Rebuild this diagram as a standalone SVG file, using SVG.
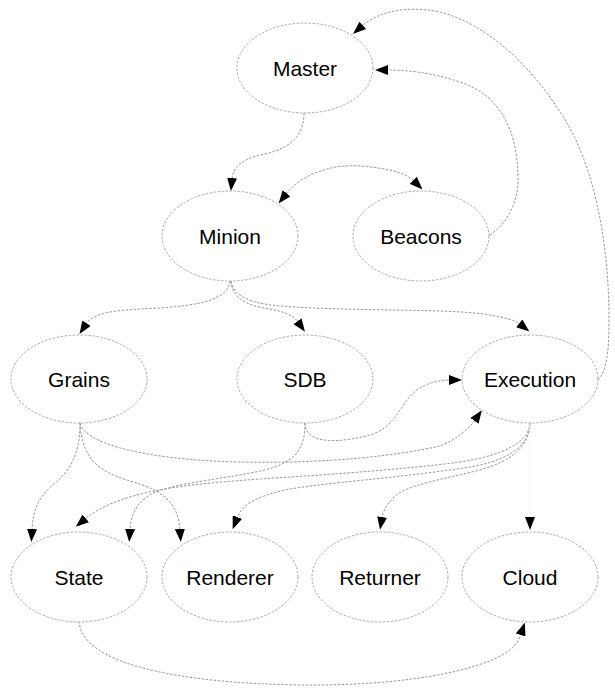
<svg xmlns="http://www.w3.org/2000/svg" width="615" height="693" viewBox="0 0 615 693">
<style>
.node ellipse{fill:#fff;stroke:#aaa;stroke-width:1;stroke-dasharray:2.5 1.5}
.node text{font-family:"Liberation Sans",Arial,sans-serif;font-size:21px;fill:#000;text-anchor:middle}
#edges path{fill:none;stroke:#999;stroke-width:1;stroke-dasharray:2.5 1.5;marker-end:url(#ah)}
</style>
<defs>
<marker id="ah" viewBox="0 0 13 10" refX="1" refY="5" markerWidth="13" markerHeight="10" markerUnits="userSpaceOnUse" orient="auto-start-reverse">
<path d="M0,0 L13,5 L0,10 z" fill="#000"/>
</marker>
</defs>
<rect width="615" height="693" fill="#fff"/>
<g id="edges">
<path d="M304,113 C304,140 285,150 260,155 C240,160 233,168 232,179"/>
<path d="M286,194 C305,170 340,164 360,166 C385,168 405,172 414,181" style="marker-start:url(#ah)"/>
<path d="M490,235 C505,225 518,205 518,180 C518,130 500,95 460,82 C430,72 405,70 387,70"/>
<path d="M598,380 C606,372 609,355 609,320 C609,230 590,160 565,120 C535,70 490,25 440,12 C405,5 378,12 362,26"/>
<path d="M230,281 C228,300 200,305 160,308 C125,310 95,310 86,324"/>
<path d="M231,281 C232,300 250,306 270,309 C285,312 293,315 298,322"/>
<path d="M231,281 C234,297 250,303 280,306 C360,312 450,308 490,315 C505,318 515,320 520,324"/>
<path d="M80,423 C80,455 70,470 55,483 C38,497 33,510 32,530"/>
<path d="M80,423 C82,460 100,472 130,481 C160,490 178,500 180,530"/>
<path d="M80,423 C85,445 150,460 240,462 C330,464 400,455 440,446 C455,440 468,430 475,420"/>
<path d="M305,423 C305,445 340,443 370,435 C398,427 400,400 420,388 C430,382 440,380 450,380"/>
<path d="M305,423 C305,450 295,462 265,470 C220,480 170,483 150,495 C136,503 131,515 130,530"/>
<path d="M530,423 C529,442 505,455 460,462 C400,470 320,475 260,479 C190,484 120,490 85,519"/>
<path d="M530,423 C530,445 510,460 470,467 C400,478 320,483 285,490 C255,497 242,505 237,518"/>
<path d="M530,423 C529,445 515,460 480,470 C440,480 405,485 393,498 C385,507 383,512 382,518"/>
<path d="M530,423 L530,518" style="stroke:#f2f2f2"/>
<path d="M79,621 C82,665 180,683 300,685 C400,686 480,672 510,650 C516,645 519,640 521,634"/>
</g>
<g id="master" class="node"><ellipse cx="305" cy="68" rx="68" ry="45"/><text x="305" y="76">Master</text></g>
<g id="minion" class="node"><ellipse cx="230" cy="236" rx="68" ry="45"/><text x="230" y="244">Minion</text></g>
<g id="beacons" class="node"><ellipse cx="421" cy="236" rx="68" ry="45"/><text x="421" y="244">Beacons</text></g>
<g id="grains" class="node"><ellipse cx="79" cy="379" rx="68" ry="44"/><text x="79" y="387">Grains</text></g>
<g id="sdb" class="node"><ellipse cx="305" cy="379" rx="68" ry="44"/><text x="305" y="387">SDB</text></g>
<g id="execution" class="node"><ellipse cx="530" cy="379" rx="68" ry="44"/><text x="530" y="387">Execution</text></g>
<g id="state" class="node"><ellipse cx="79" cy="577" rx="68" ry="45"/><text x="79" y="585">State</text></g>
<g id="renderer" class="node"><ellipse cx="230" cy="577" rx="68" ry="45"/><text x="230" y="585">Renderer</text></g>
<g id="returner" class="node"><ellipse cx="380" cy="577" rx="68" ry="45"/><text x="380" y="585">Returner</text></g>
<g id="cloud" class="node"><ellipse cx="530" cy="577" rx="68" ry="45"/><text x="530" y="585">Cloud</text></g>
</svg>
